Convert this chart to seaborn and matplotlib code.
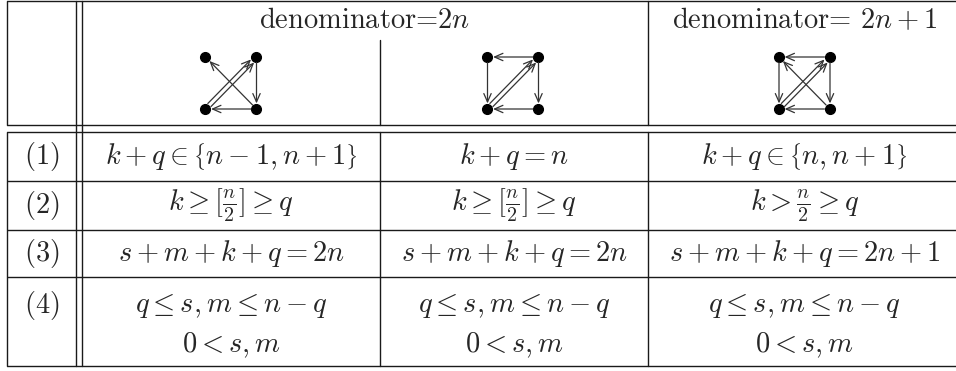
import numpy as np
import matplotlib
matplotlib.use("Agg")
import matplotlib.pyplot as plt
import seaborn as sns

# table content
header_texts = [r"denominator=$2n$", r"denominator= $2n+1$"]
row_labels = [r"$(1)$", r"$(2)$", r"$(3)$", r"$(4)$"]
col1_cells = [[r"$k+q\in\left\{n-1,n+1\right\}$"], [r"$k\geq[\frac{n}{2}]\geq q$"],
              [r"$s+m+k+q=2n$"], [r"$q\leq s,m\leq n-q$", r"$0<s,m$"]]
col2_cells = [[r"$k+q=n$"], [r"$k\geq[\frac{n}{2}]\geq q$"],
              [r"$s+m+k+q=2n$"], [r"$q\leq s,m\leq n-q$", r"$0<s,m$"]]
col3_cells = [[r"$k+q\in\left\{n,n+1\right\}$"], [r"$k>\frac{n}{2}\geq q$"],
              [r"$s+m+k+q=2n+1$"], [r"$q\leq s,m\leq n-q$", r"$0<s,m$"]]

# small digraphs (nodes: TL, TR, BL, BR), edges as (from, to, doubled)
graph1_edges = [("BR", "TL", 1), ("TR", "BR", 1), ("BR", "BL", 1), ("BL", "TR", 2)]
graph2_edges = [("TR", "TL", 1), ("TL", "BL", 1), ("TR", "BR", 1), ("BR", "BL", 1), ("BL", "TR", 2)]
graph3_edges = [("TR", "TL", 1), ("TL", "BL", 1), ("TR", "BR", 1), ("BR", "BL", 1),
                ("BR", "TL", 1), ("BL", "TR", 2)]

# layout (pixels); the table runs past the right edge of the picture
col_x = [7, 76, 82, 380, 648, 961]
row_y = [1, 125, 132, 181, 230, 277, 366]
graph_centers = [231, 513, 804.5]
graph_top, graph_bot, graph_half = 57, 109, 25.5

sns.set_theme(style="white")
plt.rcParams["mathtext.fontset"] = "cm"

fig = plt.figure(figsize=(9.56, 3.71), dpi=100)
ax = fig.add_axes([0, 0, 1, 1])
ax.set_xlim(0, 956)
ax.set_ylim(371, 0)
ax.axis("off")

lc = "#1a1a1a"
lw = 1.0
# horizontal rules
for y in row_y:
    ax.plot([col_x[0], 960], [y, y], color=lc, lw=lw, solid_capstyle="butt")
# vertical rules: the double rule runs through the header gap, the others break
for x in [col_x[1], col_x[2]]:
    ax.plot([x, x], [row_y[0], row_y[-1]], color=lc, lw=lw)
for x in [col_x[0], col_x[4]]:
    ax.plot([x, x], [row_y[0], row_y[1]], color=lc, lw=lw)
    ax.plot([x, x], [row_y[2], row_y[-1]], color=lc, lw=lw)
ax.plot([col_x[3], col_x[3]], [40, row_y[1]], color=lc, lw=lw)
ax.plot([col_x[3], col_x[3]], [row_y[2], row_y[-1]], color=lc, lw=lw)

fs = 20.5
ax.text((col_x[2] + col_x[4]) / 2, 21, header_texts[0], ha="center", va="center",
        fontsize=fs, family="cmr10")
ax.text((col_x[4] + col_x[5]) / 2, 21, header_texts[1], ha="center", va="center",
        fontsize=fs, family="cmr10")

# body
row_centers = [(row_y[i] + row_y[i + 1]) / 2 for i in range(2, 6)]
label_x = (col_x[0] + col_x[1]) / 2
cell_x = [(col_x[2] + col_x[3]) / 2, (col_x[3] + col_x[4]) / 2, (col_x[4] + col_x[5]) / 2]
for i, lab in enumerate(row_labels):
    yc = row_centers[i]
    if i == 3:
        yc = 305
    ax.text(label_x, yc, lab, ha="center", va="center", fontsize=fs)
    for cx, col in zip(cell_x, [col1_cells, col2_cells, col3_cells]):
        lines = col[i]
        if len(lines) == 1:
            ax.text(cx, yc, lines[0], ha="center", va="center", fontsize=fs)
        else:
            ax.text(cx, 305, lines[0], ha="center", va="center", fontsize=fs)
            ax.text(cx, 345, lines[1], ha="center", va="center", fontsize=fs)


def draw_graph(cx, edges):
    pos = {"TL": (cx - graph_half, graph_top), "TR": (cx + graph_half, graph_top),
           "BL": (cx - graph_half, graph_bot), "BR": (cx + graph_half, graph_bot)}
    for a, b, n in edges:
        p0 = np.array(pos[a])
        p1 = np.array(pos[b])
        d = p1 - p0
        perp = np.array([-d[1], d[0]]) / np.hypot(*d)
        offs = [0.0] if n == 1 else [-2.2, 2.2]
        for o in offs:
            s = p0 + perp * o
            e = p1 + perp * o
            ax.annotate("", xy=e, xytext=s,
                        arrowprops=dict(arrowstyle="->,head_length=0.5,head_width=0.22",
                                        color="#333333", lw=0.9, shrinkA=4, shrinkB=4))
    xs = [p[0] for p in pos.values()]
    ys = [p[1] for p in pos.values()]
    ax.plot(xs, ys, "o", color="black", markersize=7, linestyle="none")


for cx, edges in zip(graph_centers, [graph1_edges, graph2_edges, graph3_edges]):
    draw_graph(cx, edges)

fig.savefig("out.png", dpi=100, facecolor="white")
